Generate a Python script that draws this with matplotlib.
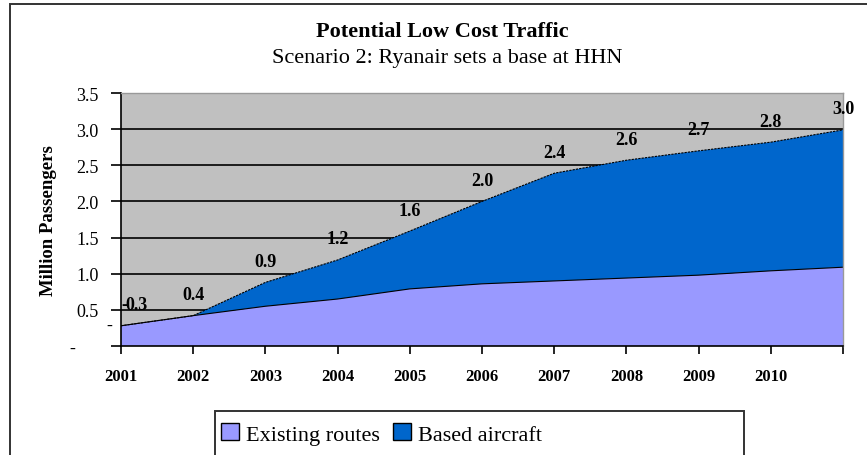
import matplotlib.pyplot as plt
import numpy as np

years = ['2001', '2002', '2003', '2004', '2005', '2006', '2007', '2008', '2009', '2010', '2011']
tick_labels = ['2001', '2002', '2003', '2004', '2005', '2006', '2007', '2008', '2009', '2010', '']
existing = [0.28, 0.42, 0.55, 0.65, 0.79, 0.86, 0.90, 0.94, 0.98, 1.04, 1.09]
total = [0.28, 0.42, 0.88, 1.19, 1.59, 2.00, 2.39, 2.57, 2.70, 2.82, 2.99]
total_labels = ['0.3', '0.4', '0.9', '1.2', '1.6', '2.0', '2.4', '2.6', '2.7', '2.8', '3.0']
y_ticks = [0, 0.5, 1.0, 1.5, 2.0, 2.5, 3.0, 3.5]
y_tick_labels = ['-     ', '0.5', '1.0', '1.5', '2.0', '2.5', '3.0', '3.5']

existing = np.array(existing)
total = np.array(total)
based = total - existing
x = np.arange(len(years))

plt.rcParams['font.family'] = ['Liberation Serif', 'DejaVu Serif']

W, H = 867, 456
fig = plt.figure(figsize=(W / 100, H / 100), dpi=100)
ax = fig.add_axes([121 / W, 1 - 347 / H, (843 - 121) / W, (347 - 94) / H])

# outer frame
fig.patches.append(plt.Rectangle((10 / W, -0.05), 1.0, 1 - 5 / H + 0.05, transform=fig.transFigure,
                                 fill=False, edgecolor='#333333', lw=1.4))
# legend frame (wider than its entries, as in the original)
fig.patches.append(plt.Rectangle((215 / W, -0.02), (744 - 215) / W, 1 - 412 / H + 0.02,
                                 transform=fig.transFigure, fill=False, edgecolor='#333333', lw=1.4))

ax.set_facecolor('#c0c0c0')
ax.stackplot(x, existing, based, colors=['#9999ff', '#0066cc'], edgecolor='none')
ax.plot(x, existing, color='black', lw=0.8)
ax.plot(x, total, color='black', lw=0.8, ls=(0, (2, 1)))

for yv in y_ticks[1:]:
    ax.axhline(yv, color='black', lw=1.2, zorder=0.5)

ax.set_xlim(0, len(years) - 1)
ax.set_ylim(0, 3.5)
ax.set_xticks(x)
ax.set_xticklabels(tick_labels, fontsize=12, fontweight='bold')
ax.set_yticks(y_ticks)
ax.set_yticklabels(y_tick_labels, fontsize=13)
ax.tick_params(axis='x', direction='out', length=6, width=1.2, pad=10)
ax.tick_params(axis='y', direction='out', length=7, width=1.2, pad=9)
for s in ['top', 'right']:
    ax.spines[s].set_color('#999999')
    ax.spines[s].set_linewidth(1)
for s in ['left', 'bottom']:
    ax.spines[s].set_color('black')
    ax.spines[s].set_linewidth(1.2)

ax.annotate('-', (0, 0.28), xycoords=ax.get_yaxis_transform(), xytext=(-12, 0),
            textcoords='offset pixels', ha='center', va='center', fontsize=13, annotation_clip=False)

for i, lab in enumerate(total_labels):
    dx = 16 if i == 0 else 0
    ax.annotate(lab, (x[i], total[i]), xytext=(dx, 21), textcoords='offset pixels',
                ha='center', va='center', fontsize=13, fontweight='bold', annotation_clip=False)
ax.annotate('-', (x[0], total[0]), xytext=(3, 21), textcoords='offset pixels',
            ha='center', va='center', fontsize=13, fontweight='bold')

ax.set_ylabel('Million Passengers', fontsize=13.5, fontweight='bold', labelpad=10)

fig.text(442 / W, 1 - 32 / H, 'Potential Low Cost Traffic', ha='center', va='center',
         fontsize=16, fontweight='bold')
fig.text(447 / W, 1 - 59 / H, 'Scenario 2: Ryanair sets a base at HHN', ha='center', va='center',
         fontsize=16)

handles = [plt.Rectangle((0, 0), 1, 1, facecolor='#9999ff', edgecolor='black'),
           plt.Rectangle((0, 0), 1, 1, facecolor='#0066cc', edgecolor='black')]
leg = fig.legend(handles, ['Existing routes', 'Based aircraft'], loc='center left',
                 bbox_to_anchor=(217 / W, 1 - 435 / H), ncol=2, fontsize=16, frameon=False,
                 handlelength=0.8, handleheight=0.8, handletextpad=0.3, columnspacing=0.6,
                 borderpad=0.2, borderaxespad=0)

fig.savefig('out.png', dpi=100)
